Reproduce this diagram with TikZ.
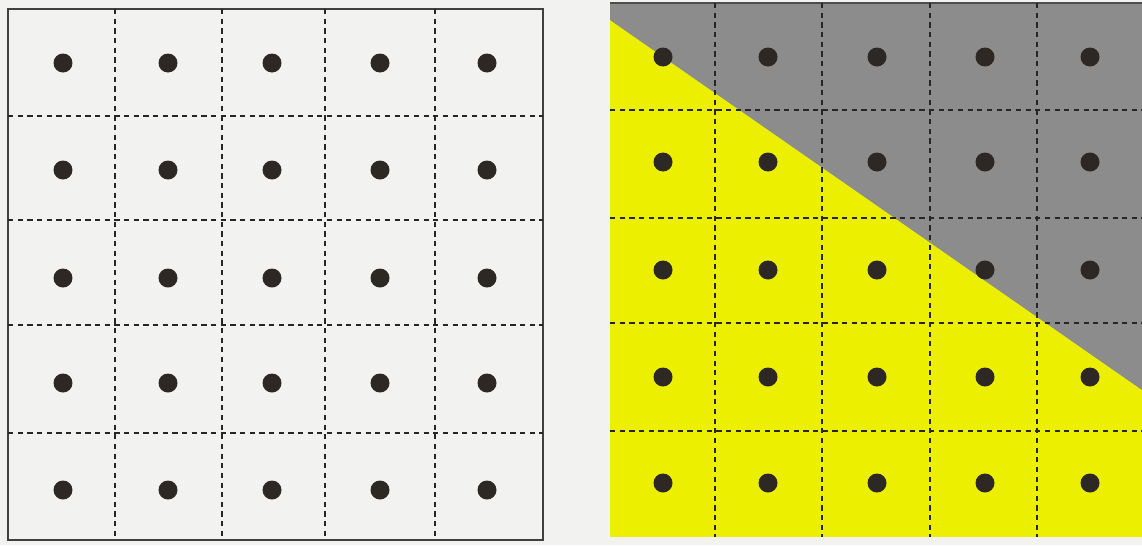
\documentclass[tikz,border=0pt]{standalone}
\usepackage{tikz}
\usetikzlibrary{positioning,calc}
\definecolor{paperwhite}{RGB}{242,242,240}
\definecolor{cellyellow}{RGB}{236,240,0}
\definecolor{shadegray}{RGB}{140,140,140}
\definecolor{dotblack}{RGB}{45,40,35}

\begin{document}
\begin{tikzpicture}[x=0.02cm, y=-0.02cm,
        gridline/.style={dash pattern=on 3pt off 2.5pt, line width=0.9pt, black!85},
        frame/.style={draw=black!75, line width=1.1pt},
        sample/.style={circle, fill=dotblack, inner sep=0pt, minimum size=0.38cm}
    ]
        \useasboundingbox (0,0) rectangle (1142,545);
        \fill[paperwhite] (0,0) rectangle (1142,545);

        % Left grid
        \draw[frame] (8,9) rectangle (543,540);
        \foreach \gx in {115,222,325,435}
            \draw[gridline] (\gx,9) -- (\gx,540);
        \foreach \gy in {116,220,325,433}
            \draw[gridline] (8,\gy) -- (543,\gy);
        \foreach \gx [count=\i] in {63,168,272,380,487}
            \foreach \gy [count=\j] in {63,170,278,383,490}
                \node[sample] (L-\j-\i) at (\gx,\gy) {};

        % Right grid, split by the edge
        \fill[cellyellow] (610,3) rectangle (1142,537);
        \fill[shadegray] (610,3) -- (1142,3) -- (1142,390) -- (610,20) -- cycle;
        \draw[black!70, line width=1pt] (610,3) -- (1142,3);
        \foreach \gx in {715,822,930,1037}
            \draw[gridline] (\gx,3) -- (\gx,537);
        \foreach \gy in {110,218,323,431}
            \draw[gridline] (610,\gy) -- (1142,\gy);
        \foreach \gx [count=\i] in {663,768,877,985,1090}
            \foreach \gy [count=\j] in {57,162,270,377,483}
                \node[sample] (R-\j-\i) at (\gx,\gy) {};

    \end{tikzpicture}
\end{document}
